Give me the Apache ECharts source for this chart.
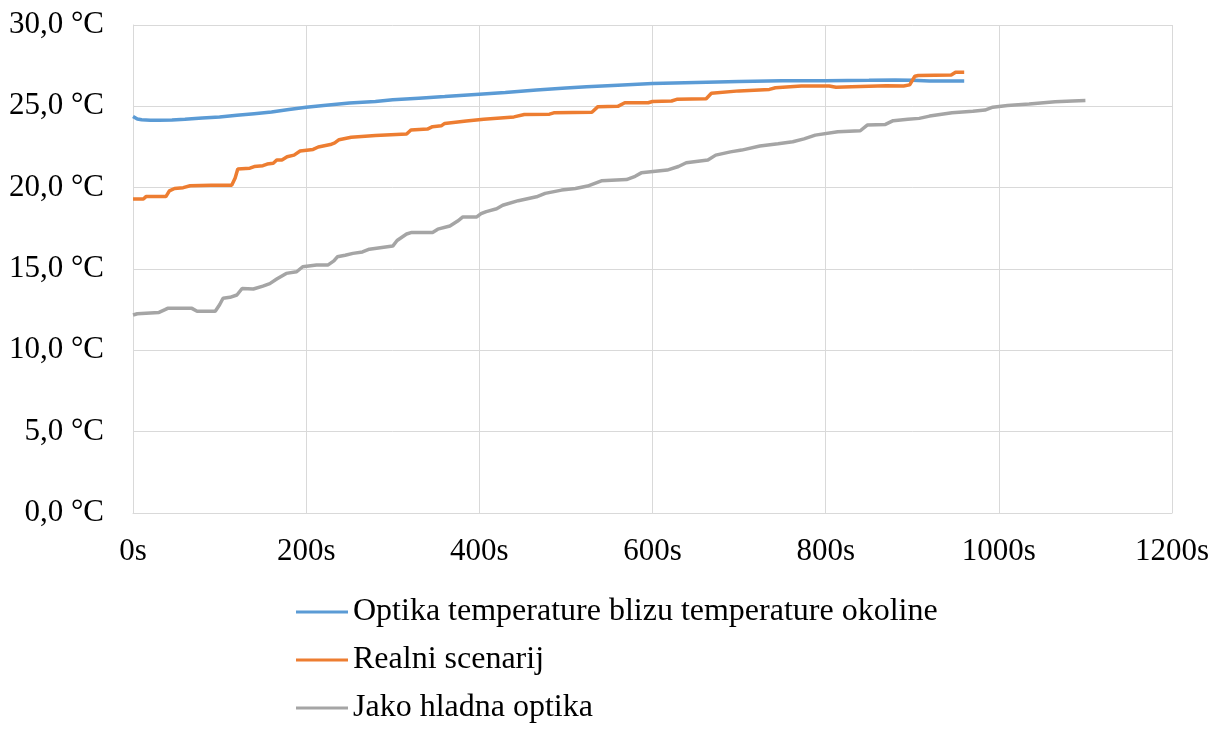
<!DOCTYPE html>
<html lang="hr" style="height: 100%">
<head>
  <meta charset="utf-8">
</head>
<body style="height: 100%; margin: 0; background: #fff">
  <div id="container" style="width: 1220px; height: 729px"></div>

  <script type="text/javascript" src="https://fastly.jsdelivr.net/npm/echarts@6.0.0/dist/echarts.min.js"></script>
  <script type="text/javascript">
	// series names (legend)
	var seriesNames = ['Optika temperature blizu temperature okoline', 'Realni scenarij', 'Jako hladna optika'];

	// Optika temperature blizu temperature okoline: time (s) / temperature (°C)
	var blueT = [0, 5, 10, 20, 30, 45, 60, 80, 100, 120, 140, 160, 180, 200, 220, 250, 280, 300, 330, 360, 400, 430, 466, 500, 524, 560, 600, 650, 700, 750, 800, 850, 880, 900, 920, 940, 960];
	var blueY = [24.38, 24.22, 24.17, 24.15, 24.14, 24.16, 24.2, 24.28, 24.35, 24.45, 24.55, 24.65, 24.8, 24.95, 25.05, 25.2, 25.3, 25.4, 25.5, 25.6, 25.75, 25.85, 26.0, 26.12, 26.2, 26.3, 26.4, 26.47, 26.53, 26.58, 26.57, 26.6, 26.62, 26.6, 26.55, 26.55, 26.55];

	// Realni scenarij
	var orangeT = [0, 12, 15, 38, 42, 48, 58, 66, 90, 114, 118, 121, 135, 140, 150, 155, 162, 166, 172, 178, 186, 193, 208, 214, 228, 233, 238, 252, 280, 316, 321, 340, 346, 356, 360, 385, 405, 440, 452, 481, 486, 530, 537, 560, 568, 595, 600, 622, 628, 662, 668, 700, 735, 742, 772, 804, 812, 830, 870, 890, 897, 903, 907, 945, 950, 960];
	var orangeY = [19.3, 19.3, 19.45, 19.45, 19.8, 19.95, 20.0, 20.12, 20.15, 20.15, 20.6, 21.15, 21.2, 21.3, 21.35, 21.45, 21.5, 21.7, 21.7, 21.9, 22.0, 22.25, 22.35, 22.5, 22.65, 22.75, 22.95, 23.1, 23.2, 23.3, 23.55, 23.6, 23.75, 23.8, 23.95, 24.1, 24.2, 24.35, 24.5, 24.52, 24.6, 24.64, 24.98, 25.0, 25.22, 25.22, 25.3, 25.33, 25.43, 25.47, 25.8, 25.95, 26.04, 26.14, 26.25, 26.25, 26.17, 26.2, 26.26, 26.25, 26.32, 26.85, 26.9, 26.93, 27.1, 27.1];

	// Jako hladna optika
	var grayT = [0, 5, 30, 37, 40, 68, 74, 95, 100, 104, 112, 120, 126, 139, 150, 158, 166, 177, 189, 196, 212, 225, 232, 236, 245, 254, 265, 273, 300, 305, 316, 322, 346, 352, 366, 375, 381, 397, 402, 408, 420, 427, 445, 466, 476, 495, 511, 525, 541, 570, 580, 587, 617, 630, 639, 664, 673, 690, 703, 724, 745, 762, 775, 788, 814, 840, 848, 869, 878, 895, 908, 920, 946, 970, 984, 993, 1010, 1035, 1065, 1085, 1100];
	var grayY = [12.17, 12.25, 12.33, 12.5, 12.58, 12.58, 12.4, 12.4, 12.8, 13.2, 13.26, 13.4, 13.8, 13.77, 13.95, 14.1, 14.38, 14.73, 14.83, 15.14, 15.24, 15.24, 15.5, 15.75, 15.85, 15.96, 16.05, 16.22, 16.41, 16.75, 17.15, 17.25, 17.25, 17.45, 17.64, 17.95, 18.2, 18.2, 18.4, 18.53, 18.7, 18.92, 19.2, 19.44, 19.65, 19.85, 19.95, 20.1, 20.42, 20.5, 20.7, 20.91, 21.08, 21.3, 21.53, 21.7, 22.0, 22.2, 22.31, 22.56, 22.7, 22.82, 23.0, 23.23, 23.44, 23.5, 23.85, 23.89, 24.12, 24.2, 24.26, 24.4, 24.6, 24.7, 24.77, 24.95, 25.05, 25.15, 25.28, 25.33, 25.36];

	var colors = ['#5B9BD5', '#ED7D31', '#A5A5A5'];
	var font = 'Liberation Serif';

	function pairs(t, y) {
		return t.map((x, i) => [x, y[i]]);
	}

	var myChart = echarts.init(document.getElementById('container'), null, { renderer: 'canvas' });

	var option = {
		animation: false,
		color: colors,
		grid: { left: 133, right: 48, top: 25, bottom: 216, containLabel: false },
		legend: {
			orient: 'vertical',
			left: 296,
			top: 596,
			padding: 0,
			icon: 'rect',
			itemWidth: 52,
			itemHeight: 3,
			itemGap: 16,
			textStyle: { fontFamily: font, fontSize: 32, color: '#000', lineHeight: 32 },
			data: seriesNames
		},
		xAxis: {
			type: 'value',
			min: 0,
			max: 1200,
			interval: 200,
			axisLine: { lineStyle: { color: '#d9d9d9', width: 1 } },
			axisTick: { show: false },
			splitLine: { lineStyle: { color: '#d9d9d9', width: 1 } },
			axisLabel: {
				margin: 23,
				fontFamily: font,
				fontSize: 31,
				color: '#000',
				formatter: v => v + 's'
			}
		},
		yAxis: {
			type: 'value',
			min: 0,
			max: 30,
			interval: 5,
			axisLine: { show: true, lineStyle: { color: '#d9d9d9', width: 1 } },
			axisTick: { show: false },
			splitLine: { lineStyle: { color: '#d9d9d9', width: 1 } },
			axisLabel: {
				margin: 29,
				fontFamily: font,
				fontSize: 31,
				color: '#000',
				formatter: v => v.toFixed(1).replace('.', ',') + ' °C'
			}
		},
		series: [
			{ name: seriesNames[0], type: 'line', symbol: 'none', data: pairs(blueT, blueY), lineStyle: { width: 3.5 } },
			{ name: seriesNames[1], type: 'line', symbol: 'none', data: pairs(orangeT, orangeY), lineStyle: { width: 3.5 } },
			{ name: seriesNames[2], type: 'line', symbol: 'none', data: pairs(grayT, grayY), lineStyle: { width: 3.5 } }
		]
	};

	myChart.setOption(option);
  </script>
</body>
</html>
